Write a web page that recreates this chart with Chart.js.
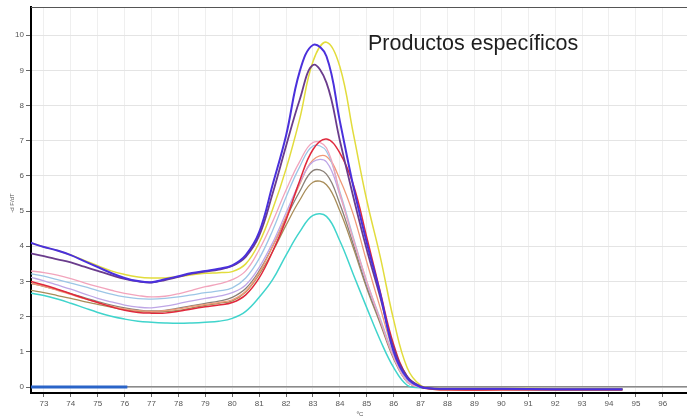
<!DOCTYPE html>
<html>
<head>
<meta charset="utf-8">
<script src="https://cdn.jsdelivr.net/npm/chart.js@4/dist/chart.umd.min.js"></script>
<style>
  html, body { margin: 0; padding: 0; background: #fff; }
</style>
</head>
<body>
<canvas id="chart" width="687" height="418"></canvas>
<script>
// temperatura (ºC)
const temps = [72.5, 73, 73.5, 74, 74.5, 75, 75.5, 76, 76.5, 77, 77.5, 78, 78.5, 79, 79.5,
  80, 80.5, 81, 81.5, 82, 82.5, 83, 83.5, 84, 84.5, 85, 85.5, 86, 86.5, 87, 87.5, 88, 90, 92, 94.5];

// -dF/dT de cada muestra
const azul = [4.10, 3.98, 3.88, 3.75, 3.58, 3.41, 3.24, 3.10, 3.01, 2.98, 3.06, 3.15, 3.24, 3.30, 3.36,
  3.46, 3.75, 4.40, 5.75, 7.15, 8.95, 9.72, 9.40, 7.55, 5.70, 4.10, 2.65, 1.00, 0.25, 0.00, -0.04, -0.05, -0.05, -0.06, -0.06];
const morado = [3.80, 3.72, 3.63, 3.54, 3.42, 3.30, 3.18, 3.07, 3.00, 2.97, 3.04, 3.13, 3.22, 3.28, 3.34,
  3.44, 3.70, 4.30, 5.50, 6.85, 8.15, 9.15, 8.65, 7.00, 5.40, 3.90, 2.55, 1.10, 0.30, 0.02, -0.05, -0.06, -0.06, -0.07, -0.07];
const amarillo = [4.10, 3.98, 3.88, 3.75, 3.60, 3.45, 3.30, 3.20, 3.13, 3.10, 3.10, 3.14, 3.19, 3.23, 3.25,
  3.28, 3.50, 4.10, 5.05, 6.20, 7.60, 9.25, 9.80, 9.10, 7.20, 5.30, 3.70, 1.90, 0.55, 0.05, -0.03, -0.04, -0.04, -0.05, -0.05];
const rojo = [3.00, 2.90, 2.78, 2.65, 2.52, 2.40, 2.28, 2.18, 2.12, 2.10, 2.10, 2.15, 2.22, 2.28, 2.33,
  2.40, 2.62, 3.10, 3.85, 4.75, 5.85, 6.75, 7.05, 6.65, 5.75, 4.25, 2.70, 1.20, 0.30, 0.00, -0.06, -0.08, -0.08, -0.08, -0.08];
const rosa = [3.30, 3.25, 3.18, 3.08, 2.96, 2.85, 2.75, 2.66, 2.60, 2.56, 2.58, 2.65, 2.75, 2.85, 2.93,
  3.05, 3.30, 3.90, 4.70, 5.60, 6.40, 6.95, 6.80, 5.50, 4.20, 3.00, 1.90, 0.85, 0.15, 0.00, -0.04, -0.05, -0.05, -0.05, -0.05];
const celeste = [3.22, 3.15, 3.05, 2.95, 2.85, 2.74, 2.64, 2.56, 2.51, 2.50, 2.52, 2.56, 2.62, 2.68, 2.73,
  2.82, 3.10, 3.65, 4.45, 5.40, 6.25, 6.85, 6.70, 5.55, 4.25, 3.00, 1.95, 0.90, 0.18, 0.00, -0.04, -0.05, -0.05, -0.05, -0.05];
const lila = [3.12, 3.02, 2.90, 2.78, 2.65, 2.52, 2.42, 2.33, 2.27, 2.25, 2.30, 2.37, 2.45, 2.52, 2.58,
  2.68, 2.90, 3.40, 4.10, 4.95, 5.80, 6.40, 6.40, 5.45, 4.20, 2.95, 1.90, 0.85, 0.15, 0.00, -0.04, -0.05, -0.05, -0.05, -0.05];
const naranja = [2.95, 2.86, 2.75, 2.63, 2.51, 2.40, 2.30, 2.22, 2.17, 2.15, 2.17, 2.22, 2.29, 2.35, 2.40,
  2.48, 2.72, 3.25, 4.00, 4.85, 5.75, 6.45, 6.55, 5.90, 4.90, 3.55, 2.25, 1.00, 0.25, 0.00, -0.07, -0.09, -0.09, -0.09, -0.09];
const gris = [2.95, 2.86, 2.76, 2.65, 2.54, 2.43, 2.33, 2.25, 2.19, 2.16, 2.18, 2.24, 2.31, 2.38, 2.44,
  2.55, 2.80, 3.30, 4.00, 4.80, 5.55, 6.15, 6.05, 5.20, 4.05, 2.85, 1.85, 0.85, 0.15, 0.00, -0.05, -0.06, -0.06, -0.06, -0.06];
const cafe = [2.75, 2.68, 2.60, 2.52, 2.43, 2.35, 2.27, 2.20, 2.15, 2.13, 2.14, 2.18, 2.25, 2.32, 2.38,
  2.45, 2.70, 3.20, 3.85, 4.60, 5.30, 5.82, 5.75, 5.00, 3.95, 2.80, 1.80, 0.80, 0.15, 0.00, -0.05, -0.06, -0.06, -0.06, -0.06];
const cian = [2.67, 2.60, 2.50, 2.38, 2.25, 2.12, 2.01, 1.93, 1.87, 1.84, 1.82, 1.81, 1.82, 1.84, 1.87,
  1.95, 2.15, 2.55, 3.05, 3.75, 4.40, 4.88, 4.85, 4.15, 3.20, 2.25, 1.33, 0.55, 0.05, -0.02, -0.05, -0.06, -0.06, -0.06, -0.06];

// control negativo y linea base
const ctrlTemps = [72.5, 76.1];
const ctrlValues = [0, 0];
const baseTemps = [72.5, 96.9];
const baseValues = [0.01, 0.01];

const yTicks = [0, 1, 2, 3, 4, 5, 6, 7, 8, 9, 10];
const titulo = "Productos específicos";

const toPoints = (xs, ys) => xs.map((x, i) => ({ x: x, y: ys[i] }));

const curve = (data, color, width) => ({
  data: toPoints(temps, data),
  borderColor: color,
  borderWidth: width || 1.3,
  pointRadius: 0,
  tension: 0.4,
  fill: false,
});

const textPlugin = {
  id: "textos",
  afterDraw(chart) {
    const ctx = chart.ctx, area = chart.chartArea;
    ctx.save();
    // borde superior
    ctx.strokeStyle = "#555";
    ctx.lineWidth = 1;
    ctx.beginPath();
    ctx.moveTo(area.left, area.top + 0.5);
    ctx.lineTo(area.right, area.top + 0.5);
    ctx.stroke();
    // titulo
    ctx.fillStyle = "#1e1e1e";
    ctx.font = "21.5px 'Liberation Sans', Arial, sans-serif";
    ctx.textBaseline = "alphabetic";
    ctx.fillText(titulo, 368, 50);
    // nombre de ejes
    ctx.fillStyle = "#555";
    ctx.font = "6px 'Liberation Sans', Arial, sans-serif";
    ctx.textAlign = "center";
    ctx.fillText("ºC", 360, 416);
    ctx.translate(14, 203);
    ctx.rotate(-Math.PI / 2);
    ctx.fillText("-d F/dT", 0, 0);
    ctx.restore();
  },
};

const ctx = document.getElementById("chart");
new Chart(ctx, {
  type: "line",
  data: {
    datasets: [
      {
        data: toPoints(ctrlTemps, ctrlValues),
        borderColor: "#2a64c8",
        borderWidth: 3,
        pointRadius: 0,
      },
      curve(azul, "#4a30dc", 2),
      curve(morado, "#6a3c8c", 1.8),
      curve(amarillo, "#e2dc3c", 1.5),
      curve(rojo, "#e0283c", 1.5),
      curve(rosa, "#f2a4bc"),
      curve(celeste, "#9cc6e6"),
      curve(lila, "#bea6e6"),
      curve(naranja, "#f09a78"),
      curve(gris, "#8a8078"),
      curve(cafe, "#a88c58"),
      curve(cian, "#40d4cc", 1.5),
      {
        data: toPoints(baseTemps, baseValues),
        borderColor: "#8a8a8a",
        borderWidth: 1.5,
        pointRadius: 0,
      },
    ],
  },
  options: {
    responsive: false,
    animation: false,
    events: [],
    layout: { padding: { top: 7, right: 0, left: 0, bottom: 0 } },
    plugins: { legend: { display: false }, tooltip: { enabled: false } },
    scales: {
      x: {
        type: "linear",
        min: 72.52,
        max: 96.9,
        afterFit: (scale) => { scale.height = 25; },
        border: { color: "#000", width: 2 },
        grid: { color: "#efefef", tickColor: "#666", tickLength: 4 },
        ticks: {
          stepSize: 1,
          includeBounds: false,
          autoSkip: false,
          maxRotation: 0,
          padding: 2,
          color: "#555",
          font: { family: "'Liberation Sans', Arial, sans-serif", size: 8 },
        },
      },
      y: {
        min: -0.17,
        max: 10.8,
        afterFit: (scale) => { scale.width = 31; },
        afterBuildTicks: (scale) => { scale.ticks = yTicks.map((v) => ({ value: v })); },
        border: { color: "#000", width: 2 },
        grid: { color: "#e4e4e4", tickColor: "#666", tickLength: 5 },
        ticks: {
          autoSkip: false,
          padding: 2,
          color: "#555",
          font: { family: "'Liberation Sans', Arial, sans-serif", size: 8 },
        },
      },
    },
  },
  plugins: [textPlugin],
});
</script>
</body>
</html>
